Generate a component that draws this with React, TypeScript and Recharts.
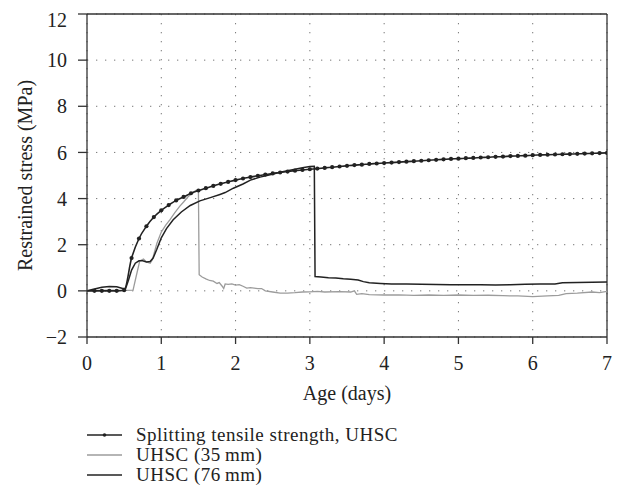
import React from 'react';
import { LineChart, Line, XAxis, YAxis, CartesianGrid, ReferenceLine } from 'recharts';

// Splitting tensile strength of UHSC, age in days
const splitDays = [
  0, 0.1, 0.2, 0.3, 0.4, 0.5, 0.6, 0.7, 0.8, 0.9, 1.0, 1.1, 1.2, 1.3, 1.4, 1.5, 1.6, 1.7, 1.8, 1.9,
  2.0, 2.1, 2.2, 2.3, 2.4, 2.5, 2.6, 2.7, 2.8, 2.9, 3.0, 3.1, 3.2, 3.3, 3.4, 3.5, 3.6, 3.7, 3.8, 3.9,
  4.0, 4.1, 4.2, 4.3, 4.4, 4.5, 4.6, 4.7, 4.8, 4.9, 5.0, 5.1, 5.2, 5.3, 5.4, 5.5, 5.6, 5.7, 5.8, 5.9,
  6.0, 6.1, 6.2, 6.3, 6.4, 6.5, 6.6, 6.7, 6.8, 6.9, 7.0,
];
const splitStress = [
  0, 0, 0, 0, 0, 0.03, 1.42, 2.27, 2.8, 3.2, 3.49, 3.72, 3.92, 4.07, 4.23, 4.35, 4.45, 4.55, 4.64, 4.72,
  4.8, 4.87, 4.93, 4.99, 5.04, 5.09, 5.13, 5.17, 5.21, 5.24, 5.27, 5.3, 5.33, 5.36, 5.39, 5.42, 5.45, 5.47, 5.5, 5.52,
  5.54, 5.56, 5.58, 5.6, 5.62, 5.64, 5.66, 5.68, 5.7, 5.72, 5.73, 5.75, 5.76, 5.78, 5.79, 5.81, 5.82, 5.84, 5.85, 5.86,
  5.88, 5.89, 5.9, 5.91, 5.92, 5.93, 5.94, 5.95, 5.96, 5.97, 5.98,
];

// Restrained stress, UHSC ring 35 mm
const uhsc35Days = [
  0, 0.1, 0.3, 0.5, 0.62, 0.66, 0.71, 0.76, 0.8, 0.85, 0.88, 0.94, 1.0, 1.06, 1.12, 1.18, 1.25, 1.3, 1.36, 1.43,
  1.47, 1.5, 1.51, 1.55, 1.6, 1.65, 1.7, 1.75, 1.78, 1.82, 1.84, 1.86, 1.9, 1.95, 2.0, 2.05, 2.1, 2.15, 2.2, 2.3,
  2.35, 2.4, 2.5, 2.6, 2.7, 2.8, 2.9, 3.0, 3.1, 3.2, 3.4, 3.55, 3.6, 3.63, 3.7, 3.8, 4.0, 4.2, 4.4, 4.6,
  4.8, 5.0, 5.2, 5.4, 5.6, 5.8, 6.0, 6.2, 6.35, 6.45, 6.6, 6.8, 6.9, 7.0,
];
const uhsc35Stress = [
  0, 0.02, 0.03, 0.02, 0.03, 0.6, 1.3, 1.38, 1.25, 1.2, 1.35, 2.05, 2.55, 2.85, 3.1, 3.38, 3.67, 3.85, 4.08, 4.27,
  4.36, 4.3, 0.7, 0.6, 0.52, 0.45, 0.42, 0.32, 0.36, 0.2, 0.1, 0.3, 0.28, 0.3, 0.25, 0.27, 0.2, 0.12, 0.14, 0.1,
  0.1, 0.0, -0.05, -0.1, -0.1, -0.08, -0.05, -0.04, -0.02, -0.05, -0.03, -0.05, 0.0, -0.15, -0.12, -0.16, -0.18, -0.17, -0.2, -0.18,
  -0.2, -0.18, -0.2, -0.19, -0.21, -0.22, -0.25, -0.22, -0.2, -0.12, -0.1, -0.05, -0.08, -0.02,
];

// Restrained stress, UHSC ring 76 mm
const uhsc76Days = [
  0, 0.1, 0.2, 0.3, 0.4, 0.48, 0.52, 0.56, 0.6, 0.65, 0.7, 0.75, 0.8, 0.85, 0.89, 0.94, 1.0, 1.07, 1.16, 1.27,
  1.39, 1.52, 1.66, 1.79, 1.86, 1.97, 2.1, 2.2, 2.33, 2.45, 2.6, 2.75, 2.9, 3.0, 3.06, 3.07, 3.15, 3.25, 3.35, 3.45,
  3.55, 3.65, 3.72, 3.8, 3.95, 4.1, 4.3, 4.5, 4.7, 4.9, 5.1, 5.3, 5.5, 5.7, 5.9, 6.1, 6.3, 6.4, 6.6, 6.8, 7.0,
];
const uhsc76Stress = [
  0, 0.08, 0.16, 0.19, 0.18, 0.1, 0.1, 0.48, 0.9, 1.2, 1.3, 1.3, 1.25, 1.27, 1.42, 1.8, 2.3, 2.7, 3.08, 3.42,
  3.7, 3.9, 4.04, 4.18, 4.26, 4.45, 4.63, 4.8, 4.93, 5.02, 5.14, 5.24, 5.34, 5.39, 5.4, 0.62, 0.6, 0.57, 0.56, 0.52,
  0.5, 0.47, 0.4, 0.35, 0.32, 0.3, 0.3, 0.29, 0.28, 0.27, 0.26, 0.26, 0.25, 0.27, 0.29, 0.3, 0.3, 0.35, 0.36, 0.37, 0.38,
];

const xTicks = [0, 1, 2, 3, 4, 5, 6, 7];
const yTicks = [-2, 0, 2, 4, 6, 8, 10, 12];

const legendLabels = ['Splitting tensile strength, UHSC', 'UHSC (35\u2009mm)', 'UHSC (76\u2009mm)'];

const toPoints = (days: number[], values: number[]) => days.map((d, i) => ({ day: d, stress: values[i] }));

const splitData = toPoints(splitDays, splitStress);
const uhsc35Data = toPoints(uhsc35Days, uhsc35Stress);
const uhsc76Data = toPoints(uhsc76Days, uhsc76Stress);

const FONT = "'Liberation Serif', 'Times New Roman', 'DejaVu Serif', serif";
const DARK = '#222';
const GREY = '#9c9c9c';
const AXIS = '#333';

const fmtY = (v: number) => (v < 0 ? `\u2212${Math.abs(v)}` : `${v}`);

const SplitDot = (props: any) => {
  const { cx, cy, index } = props;
  if (index === 0) return <g key={`d-${index}`} />;
  return <circle key={`d-${index}`} cx={cx} cy={cy} r={2.1} fill={DARK} stroke="none" />;
};

const YTitle = (props: any) => {
  const vb = props.viewBox || {};
  const x = vb.x - 2;
  const y = vb.y + vb.height / 2;
  return (
    <text
      x={x}
      y={y}
      transform={`rotate(-90, ${x}, ${y})`}
      textAnchor="middle"
      dominantBaseline="central"
      style={{ fontFamily: FONT, fontSize: 20 }}
      fill={DARK}
    >
      Restrained stress (MPa)
    </text>
  );
};

const XTitle = (props: any) => {
  const vb = props.viewBox || {};
  return (
    <text
      x={vb.x + vb.width / 2}
      y={vb.y + 56}
      textAnchor="middle"
      dominantBaseline="central"
      style={{ fontFamily: FONT, fontSize: 20 }}
      fill={DARK}
    >
      Age (days)
    </text>
  );
};

const legendStyles = [
  { color: DARK, dot: true },
  { color: GREY, dot: false },
  { color: DARK, dot: false },
];

const tickStyle = { fill: DARK, style: { fontFamily: FONT, fontSize: 20 } };

export default function App() {
  return (
    <div style={{ position: 'relative', width: 614, height: 490, fontFamily: FONT }}>
      <LineChart
        width={614}
        height={490}
        margin={{ top: 6, right: 15, left: 19, bottom: 121 }}
        style={{ fontFamily: FONT }}
      >
        <CartesianGrid stroke="#777" strokeDasharray="1.3 7.7" strokeWidth={1} />
        <XAxis
          dataKey="day"
          type="number"
          domain={[0, 7]}
          ticks={xTicks}
          allowDataOverflow
          height={40}
          tickSize={7}
          tickMargin={12}
          axisLine={{ stroke: AXIS, strokeWidth: 1.3 }}
          tickLine={{ stroke: AXIS, strokeWidth: 1.3 }}
          tick={tickStyle}
          label={<XTitle />}
        />
        <YAxis
          type="number"
          domain={[-2, 12]}
          ticks={yTicks}
          allowDataOverflow
          width={60}
          tickSize={9}
          tickMargin={11}
          tickFormatter={fmtY}
          axisLine={{ stroke: AXIS, strokeWidth: 1.3 }}
          tickLine={{ stroke: AXIS, strokeWidth: 1.3 }}
          tick={tickStyle}
          label={<YTitle />}
        />
        <ReferenceLine y={12} stroke={AXIS} strokeWidth={1.3} />
        <ReferenceLine x={7} stroke={AXIS} strokeWidth={1.3} />
        <Line
          data={uhsc35Data}
          dataKey="stress"
          type="linear"
          stroke={GREY}
          strokeWidth={1.3}
          dot={false}
          isAnimationActive={false}
        />
        <Line
          data={uhsc76Data}
          dataKey="stress"
          type="linear"
          stroke={DARK}
          strokeWidth={1.5}
          dot={false}
          isAnimationActive={false}
        />
        <Line
          data={splitData}
          dataKey="stress"
          type="monotone"
          stroke={DARK}
          strokeWidth={1.6}
          dot={<SplitDot />}
          isAnimationActive={false}
        />
      </LineChart>
      <div style={{ position: 'absolute', left: 79, top: 417, fontFamily: FONT, fontSize: 19, lineHeight: '20px', letterSpacing: 0.5, color: DARK }}>
        {legendLabels.map((label, i) => (
          <div key={label} style={{ display: 'flex', alignItems: 'center', height: 20, whiteSpace: 'nowrap' }}>
            <svg width={35} height={10} style={{ marginRight: 14 }}>
              <line x1={0} y1={5} x2={35} y2={5} stroke={legendStyles[i].color} strokeWidth={1.5} />
              {legendStyles[i].dot && <circle cx={17.5} cy={5} r={1.8} fill={DARK} />}
            </svg>
            <span>{label}</span>
          </div>
        ))}
      </div>
    </div>
  );
}
